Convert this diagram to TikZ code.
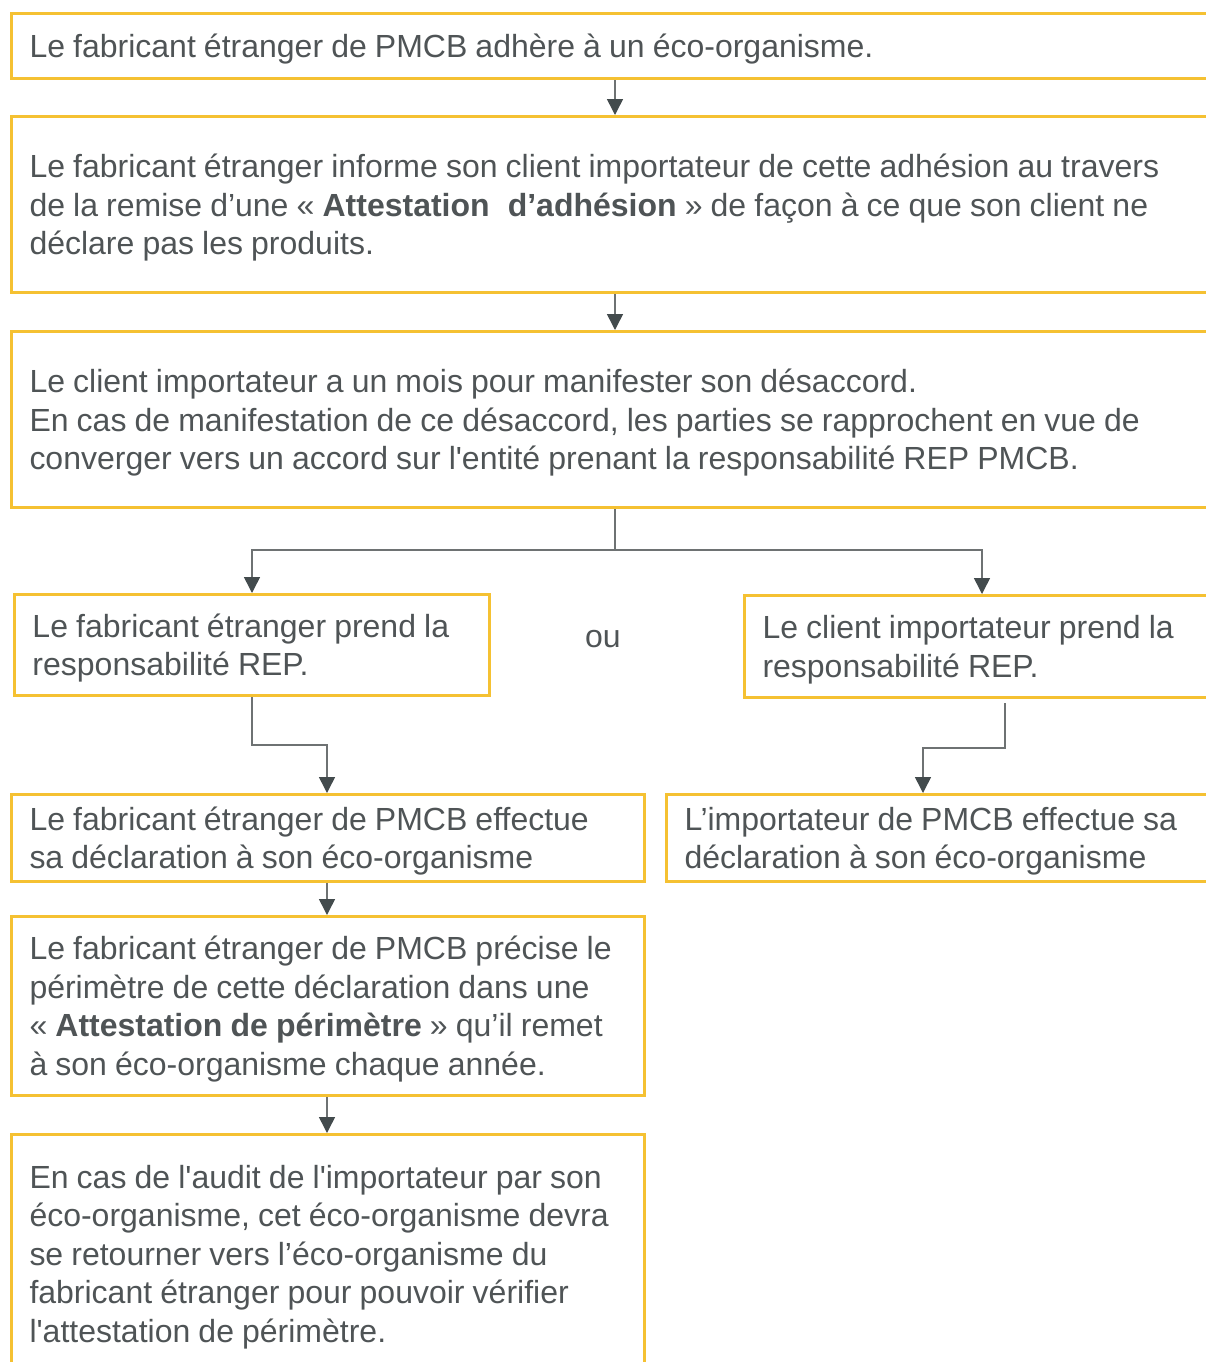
\documentclass[tikz,border=0pt]{standalone}
\usepackage{fontspec}
\setmainfont{Liberation Sans}
\usetikzlibrary{arrows.meta}
\definecolor{boxc}{HTML}{F5C132}
\definecolor{txtc}{HTML}{4F5456}
\definecolor{linec}{HTML}{6E7273}
\definecolor{headc}{HTML}{434B4D}
\newcommand{\sq}{\textquotesingle}
\newcommand{\boxfont}{\fontsize{16}{19.25}\selectfont\fontdimen2\font=4.05pt\relax}
\begin{document}
\begin{tikzpicture}[x=0.5pt,y=-0.5pt,
  box/.style={draw=boxc, line width=1.5pt, text=txtc, align=left, anchor=north west,
    inner xsep=9pt, inner ysep=0pt, font=\boxfont,
    execute at begin node={\spaceskip=4.05pt plus 1pt minus 0.5pt\relax\rule{0pt}{15pt}}},
  arr/.style={draw=linec, line width=0.75pt, -{Triangle[width=8pt,length=8pt,color=headc]}},
  lbl/.style={text=txtc, font=\boxfont}]
\useasboundingbox (0,0) rectangle (1206,1362);
\clip (0,0) rectangle (1206,1362);

\node[box, text width=592pt, minimum height=32.5pt] (b1) at (10,12)
  {Le fabricant étranger de PMCB adhère à un éco-organisme.};
\node[box, text width=592pt, minimum height=88pt] (b2) at (10,115)
  {Le fabricant étranger informe son client importateur de cette adhésion au travers\\
   de la remise d’une « \textbf{Attestation\hspace{5pt} d’adhésion} » de façon à ce que son client ne\\
   déclare pas les produits.};
\node[box, text width=592pt, minimum height=88pt] (b3) at (10,330)
  {Le client importateur a un mois pour manifester son désaccord.\\
   En cas de manifestation de ce désaccord, les parties se rapprochent en vue de\\
   converger vers un accord sur l\sq entité prenant la responsabilité REP PMCB.};
\node[box, text width=219.5pt, minimum height=50.5pt] (b4l) at (13,593)
  {Le fabricant étranger prend la\\ responsabilité REP.};
\node[box, text width=225.5pt, minimum height=51pt] (b4r) at (743,594)
  {Le client importateur prend la\\ responsabilité REP.};
\node[lbl] (ou) at (603,639) {ou};
\node[box, text width=298.5pt, minimum height=43.5pt] (b5l) at (10,793)
  {Le fabricant étranger de PMCB effectue\\ sa déclaration à son éco-organisme};
\node[box, text width=264.5pt, minimum height=43.5pt] (b5r) at (665,793)
  {L’importateur de PMCB effectue sa\\ déclaration à son éco-organisme};
\node[box, text width=298.5pt, minimum height=89.5pt] (b6) at (10,915)
  {Le fabricant étranger de PMCB précise le\\
   périmètre de cette déclaration dans une\\
   « \textbf{Attestation de périmètre} » qu’il remet\\
   à son éco-organisme chaque année.};
\node[box, text width=298.5pt, minimum height=119pt] (b7) at (10,1133)
  {En cas de l\sq audit de l\sq importateur par son\\
   éco-organisme, cet éco-organisme devra\\
   se retourner vers l’éco-organisme du\\
   fabricant étranger pour pouvoir vérifier\\
   l\sq attestation de périmètre.};

\coordinate (m) at (615,0);
\coordinate (jL) at (252,550);
\coordinate (jR) at (982,550);
\coordinate (kL) at (327,745);
\coordinate (sR) at (1005,703);
\coordinate (kR) at (923,748);

\draw[arr] (b1.south -| m) -- (b2.north -| m);
\draw[arr] (b2.south -| m) -- (b3.north -| m);
\draw[arr] (b3.south -| m) |- (jL) -- (b4l.north -| jL);
\draw[arr] (m |- jR) -- (jR) -- (b4r.north -| jR);
\draw[arr] (b4l.south -| jL) |- (kL) -- (b5l.north -| kL);
\draw[arr] (sR) |- (kR) -- (b5r.north -| kR);
\draw[arr] (b5l.south -| kL) -- (b6.north -| kL);
\draw[arr] (b6.south -| kL) -- (b7.north -| kL);
\end{tikzpicture}
\end{document}
